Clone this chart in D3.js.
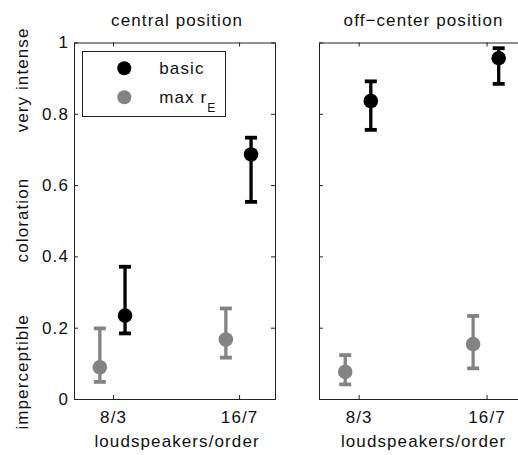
<!DOCTYPE html>
<html>
<head>
<meta charset="utf-8">
<script src="https://cdn.jsdelivr.net/npm/d3@7"></script>
<style>
  html, body { margin: 0; padding: 0; background: #fff; }
  svg { display: block; }
  text { font-family: "Liberation Sans", Arial, sans-serif; font-size: 17px; letter-spacing: 1.1px; fill: #111; }
</style>
</head>
<body>
<div id="chart"></div>
<script>
// Data
const panels = ['central position', 'off\u2212center position'];
const categories = ['8/3', '16/7'];
const seriesNames = ['basic', 'max r'];

// [panel][category]
const basicMean = [[0.234, 0.686], [0.836, 0.956]];
const basicLow = [[0.184, 0.553], [0.755, 0.884]];
const basicHigh = [[0.371, 0.733], [0.891, 0.984]];

const maxMean = [[0.089, 0.167], [0.076, 0.154]];
const maxLow = [[0.048, 0.116], [0.041, 0.086]];
const maxHigh = [[0.198, 0.254], [0.123, 0.233]];

const yTicks = [0, 0.2, 0.4, 0.6, 0.8, 1];
const yWords = ['very intense', 'coloration', 'imperceptible'];
const yWordValues = [0.895, 0.502, 0.076];

const width = 518;
const height = 455;
const BLACK = '#000';
const GREY = '#838383';

const svg = d3.select('#chart')
  .append('svg')
  .attr('width', width)
  .attr('height', height);

const y = d3.scaleLinear().domain([0, 1]).range([399, 42.5]);
const panelLeft = [74, 319];
const panelWidth = [201, 204];

const series = [
  { mean: maxMean, low: maxLow, high: maxHigh, color: GREY, offset: -0.105 },
  { mean: basicMean, low: basicLow, high: basicHigh, color: BLACK, offset: 0.095 },
];

panels.forEach((title, p) => {
  const x = d3.scaleLinear()
    .domain([0.69, 2.285])
    .range([panelLeft[p], panelLeft[p] + panelWidth[p]]);
  const x0 = x.range()[0];
  const x1 = x.range()[1];
  const g = svg.append('g');

  // ticks pointing inwards on all four sides
  const tickVals = categories.map((c, i) => i + 1);
  g.append('g')
    .attr('transform', `translate(0,${y(0)})`)
    .call(d3.axisBottom(x).tickValues(tickVals).tickFormat((d) => categories[d - 1])
      .tickSizeInner(-4).tickSizeOuter(0).tickPadding(11.5));
  g.append('g')
    .attr('transform', `translate(0,${y(1)})`)
    .call(d3.axisTop(x).tickValues(tickVals).tickFormat('').tickSizeInner(-4).tickSizeOuter(0));
  g.append('g')
    .attr('transform', `translate(${x0},0)`)
    .call(d3.axisLeft(y).tickValues(yTicks).tickFormat(p === 0 ? d3.format('') : '')
      .tickSizeInner(-4).tickSizeOuter(0).tickPadding(5));
  g.append('g')
    .attr('transform', `translate(${x1},0)`)
    .call(d3.axisRight(y).tickValues(yTicks).tickFormat('').tickSizeInner(-4).tickSizeOuter(0));

  g.selectAll('.domain').remove();
  g.selectAll('.tick line').attr('stroke', '#222');
  g.selectAll('.tick text').attr('font-size', null).attr('font-family', null).attr('fill', '#111');

  // frame
  g.append('rect')
    .attr('x', x0 + 0.5)
    .attr('y', y(1) + 0.5)
    .attr('width', x1 - x0)
    .attr('height', y(0) - y(1))
    .attr('fill', 'none')
    .attr('stroke', '#222')
    .attr('stroke-width', 1);

  // title and x label
  const mid = x(1.5) + 1;
  g.append('text')
    .attr('x', mid)
    .attr('y', 26)
    .attr('text-anchor', 'middle')
    .text(title);
  g.append('text')
    .attr('x', mid)
    .attr('y', 446.5)
    .attr('text-anchor', 'middle')
    .text('loudspeakers/order');

  // error bars and points
  series.forEach((s) => {
    categories.forEach((c, i) => {
      const cx = x(i + 1 + s.offset);
      g.append('line')
        .attr('x1', cx).attr('x2', cx)
        .attr('y1', y(s.low[p][i])).attr('y2', y(s.high[p][i]))
        .attr('stroke', s.color).attr('stroke-width', 3.3);
      [s.low[p][i], s.high[p][i]].forEach((v) => {
        g.append('line')
          .attr('x1', cx - 6).attr('x2', cx + 6)
          .attr('y1', y(v)).attr('y2', y(v))
          .attr('stroke', s.color).attr('stroke-width', 3.8);
      });
      g.append('circle')
        .attr('cx', cx)
        .attr('cy', y(s.mean[p][i]))
        .attr('r', 7.3)
        .attr('fill', s.color);
    });
  });
});

// y axis words
yWords.forEach((w, i) => {
  svg.append('text')
    .attr('transform', `translate(27.5,${y(yWordValues[i])}) rotate(-90)`)
    .attr('text-anchor', 'middle')
    .text(w);
});

// legend
const legend = svg.append('g');
legend.append('rect')
  .attr('x', 82.5).attr('y', 51.5)
  .attr('width', 143).attr('height', 65)
  .attr('fill', '#fff').attr('stroke', '#222');
const legendItems = [
  { name: seriesNames[0], color: BLACK, cy: 68.3 },
  { name: seriesNames[1], color: GREY, cy: 97.3 },
];
legendItems.forEach((item, i) => {
  legend.append('circle')
    .attr('cx', 124.3).attr('cy', item.cy).attr('r', 7)
    .attr('fill', item.color);
  const t = legend.append('text')
    .attr('x', 159.3)
    .attr('y', item.cy + 5.8)
    .text(item.name);
  if (i === 1) {
    t.append('tspan')
      .attr('dy', 8.7)
      .attr('font-size', '12px')
      .text('E');
  }
});
</script>
</body>
</html>
